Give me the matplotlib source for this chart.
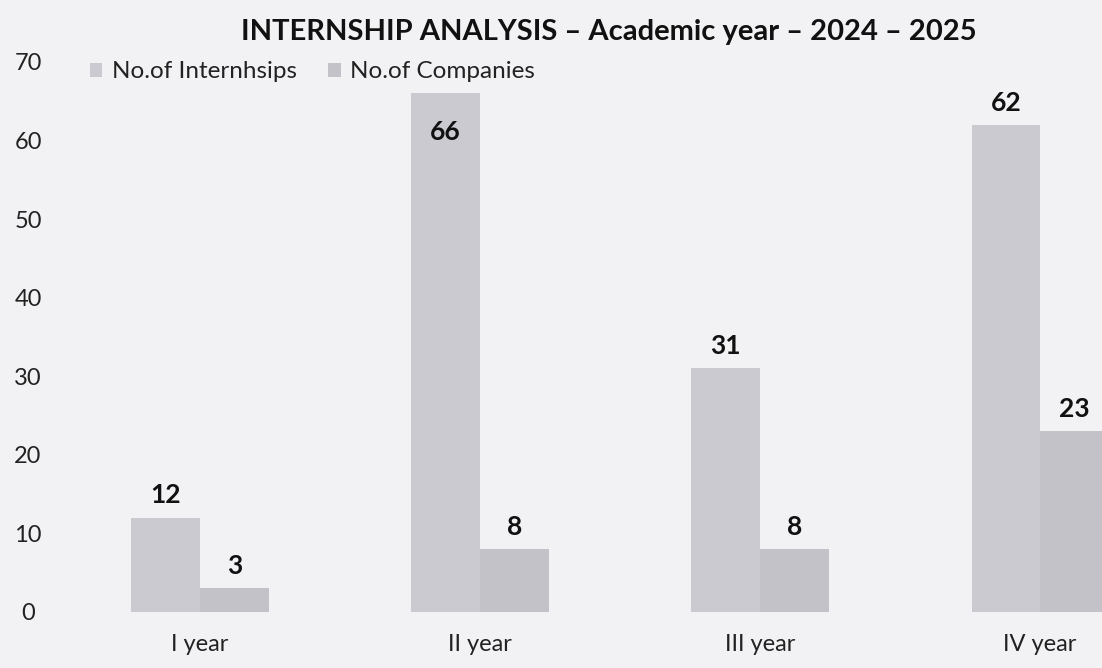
import matplotlib.pyplot as plt
import numpy as np

# chart data
YEARS = ["I year", "II year", "III year", "IV year"]
INTERNSHIPS = [12, 66, 31, 62]
COMPANIES = [3, 8, 8, 23]
SERIES_NAMES = ["No.of Internhsips", "No.of Companies"]
Y_TICKS = [0, 10, 20, 30, 40, 50, 60, 70]

BG = "#f2f1f3"
COLOURS = ["#cbcad1", "#c3c2c9"]
FONT = ["Lato", "DejaVu Sans"]

plt.rcParams["font.family"] = FONT

fig = plt.figure(figsize=(11.02, 6.68), dpi=100, facecolor=BG)
ax = fig.add_axes([60/1102, 56/668, 1042/1102, 550/668])
ax.set_facecolor(BG)

x = np.arange(len(YEARS))
w = 0.245
b1 = ax.bar(x - w/2, INTERNSHIPS, w, color=COLOURS[0], label=SERIES_NAMES[0])
b2 = ax.bar(x + w/2, COMPANIES, w, color=COLOURS[1], label=SERIES_NAMES[1])

# value labels, put inside when the bar reaches the top
for bars in (b1, b2):
	for rect in bars:
		v = rect.get_height()
		cx = rect.get_x() + rect.get_width()/2
		off = -28 if v > 64 else 16
		ax.annotate(str(int(v)), (cx, v), xytext=(0, off), textcoords="offset points",
			ha="center", va="center", fontsize=19, fontweight="bold", color="#111111")

ax.set_xlim(-0.5, 3.221)
ax.set_ylim(0, 70)
ax.set_yticks(Y_TICKS)
ax.set_yticklabels([str(t) for t in Y_TICKS], fontsize=17, color="#222222")
for lab in ax.get_yticklabels():
	lab.set_ha("center")
ax.set_xticks(x)
ax.set_xticklabels(YEARS, fontsize=17, color="#222222")
ax.tick_params(axis="y", length=0, pad=23)
ax.tick_params(axis="x", length=0, pad=16)
for s in ax.spines.values():
	s.set_visible(False)

fig.text(609/1102, 1 - 32/668, "INTERNSHIP ANALYSIS \u2013 Academic year \u2013 2024 \u2013 2025",
	ha="center", va="center", fontsize=21, fontweight="bold", color="#111111")

ax.legend(loc="center left", bbox_to_anchor=(68/1102, 1 - 72/668), bbox_transform=fig.transFigure,
	ncol=2, frameon=False, fontsize=17.5, handlelength=0.5, handleheight=0.5,
	handletextpad=0.4, columnspacing=1.3, labelcolor="#222222")

fig.savefig("out.png", dpi=100, facecolor=BG)
